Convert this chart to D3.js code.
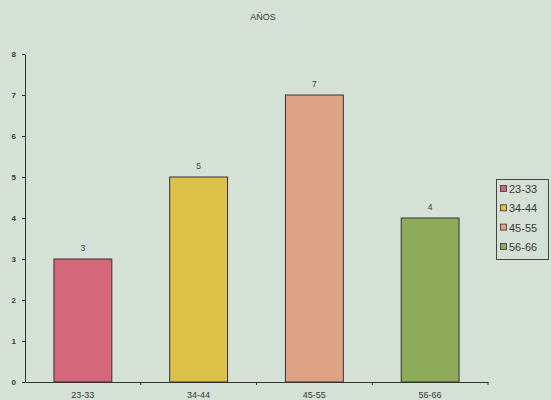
<!DOCTYPE html>
<html><head><meta charset="utf-8">
<script src="https://cdn.jsdelivr.net/npm/d3@7"></script>
<style>html,body{margin:0;padding:0;background:#d5e0d6;}svg{display:block;}</style>
</head><body>
<svg id="chart" width="551" height="400"></svg>
<script>
const title = "AÑOS";
const categories = ["23-33", "34-44", "45-55", "56-66"];
const values = [3, 5, 7, 4];
const colors = ["#d4687a", "#dcc048", "#dda384", "#8caa58"];
const yTicks = [0, 1, 2, 3, 4, 5, 6, 7, 8];

const svg = d3.select("#chart");
svg.append("rect").attr("width", 551).attr("height", 400).attr("fill", "#d5e0d6");

const m = {left: 25, right: 488, top: 54, bottom: 382};
const x = d3.scaleBand().domain(categories).range([m.left, m.right]).paddingInner(0.5).paddingOuter(0.25);
const y = d3.scaleLinear().domain([0, 8]).range([m.bottom, m.top]);

const font = "Liberation Sans, Arial, sans-serif";
const ink = "#3a3a3a";

svg.append("text").attr("x", 263).attr("y", 20).attr("text-anchor", "middle")
  .attr("font-family", font).attr("font-size", 9).attr("fill", ink).text(title);

// bars
svg.selectAll("rect.bar").data(values).enter().append("rect")
  .attr("class", "bar")
  .attr("x", (d, i) => x(categories[i]))
  .attr("y", d => y(d))
  .attr("width", x.bandwidth())
  .attr("height", d => y(0) - y(d))
  .attr("fill", (d, i) => colors[i])
  .attr("stroke", "#333").attr("stroke-width", 1);

// value labels
svg.selectAll("text.val").data(values).enter().append("text")
  .attr("x", (d, i) => x(categories[i]) + x.bandwidth() / 2)
  .attr("y", d => y(d) - 8)
  .attr("text-anchor", "middle").attr("font-family", font).attr("font-size", 8.5)
  .attr("fill", ink).text(d => d);

// y axis
const yAxis = d3.axisLeft(y).tickValues(yTicks).tickSize(3).tickSizeOuter(0).tickPadding(6);
const gy = svg.append("g").attr("transform", `translate(${m.left},0)`).call(yAxis);
gy.select(".domain").attr("stroke", "#333");
gy.selectAll("line").attr("stroke", "#333");
gy.selectAll("text").attr("font-family", font).attr("font-size", 8).attr("font-weight", "bold").attr("fill", ink);

// x axis
const xAxis = d3.axisBottom(x).tickSize(0).tickPadding(10);
const gx = svg.append("g").attr("transform", `translate(0,${m.bottom})`).call(xAxis);
gx.select(".domain").attr("stroke", "#333");
gx.selectAll("text").attr("font-family", font).attr("font-size", 9).attr("fill", ink);
// category separators
const seps = d3.range(1, categories.length + 1).map(i => m.left + i * (m.right - m.left) / categories.length);
svg.selectAll("line.sep").data(seps).enter().append("line")
  .attr("x1", d => d).attr("x2", d => d).attr("y1", m.bottom).attr("y2", m.bottom + 3)
  .attr("stroke", "#333");

// legend
const lg = svg.append("g");
lg.append("rect").attr("x", 496.5).attr("y", 179.5).attr("width", 52).attr("height", 80)
  .attr("fill", "none").attr("stroke", "#444").attr("stroke-width", 1);
categories.forEach((c, i) => {
  const yy = 189 + i * 19.3;
  lg.append("rect").attr("x", 500.5).attr("y", yy - 3.5).attr("width", 6).attr("height", 6)
    .attr("fill", colors[i]).attr("stroke", "#333").attr("stroke-width", 0.8);
  lg.append("text").attr("x", 509).attr("y", yy + 4).attr("font-family", font)
    .attr("font-size", 11).attr("fill", ink).text(c);
});
</script>
</body></html>
